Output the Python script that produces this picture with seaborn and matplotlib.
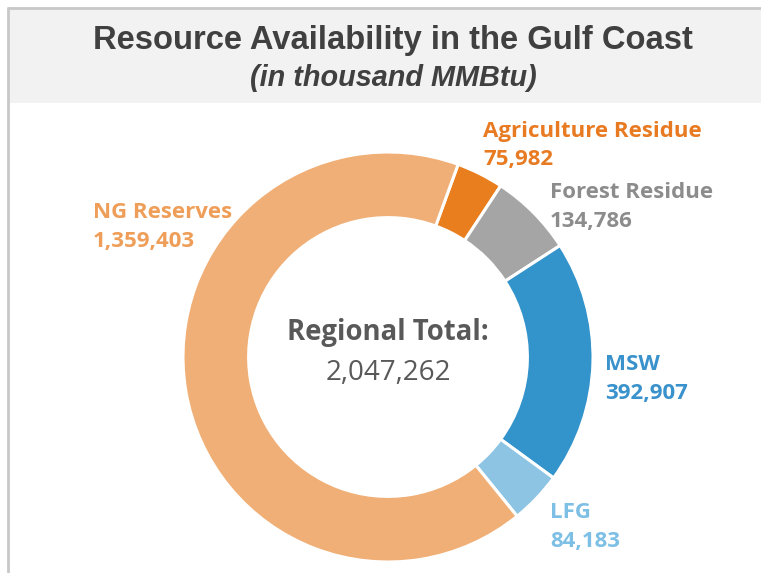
import matplotlib
matplotlib.use("Agg")
import matplotlib.pyplot as plt
import seaborn as sns
from matplotlib.patches import Rectangle
from matplotlib.lines import Line2D

# data
categories = ["Agriculture Residue", "Forest Residue", "MSW", "LFG", "NG Reserves"]
values = [75982, 134786, 392907, 84183, 1359403]
total_label = "2,047,262"

wedge_colors = ["#E97E1E", "#A5A5A5", "#3393CB", "#8DC4E4", "#F0AF76"]
text_colors = ["#E87A22", "#8C8C8C", "#3A92CC", "#7DBFE5", "#EE9E58"]

sns.set_theme(style="white")
plt.rcParams["font.family"] = ["Open Sans", "DejaVu Sans"]

W, H = 761, 573
fig = plt.figure(figsize=(W / 100, H / 100), dpi=100)
fig.patch.set_facecolor("white")


def fx(x):
    return x / W


def fy(y):
    return 1 - y / H


# title band and frame
fig.add_artist(Rectangle((fx(8), fy(103)), 1, (103 - 8) / H, transform=fig.transFigure,
                         facecolor="#F2F2F2", edgecolor="none", zorder=0))
fig.add_artist(Line2D([fx(8), 1], [fy(8), fy(8)], transform=fig.transFigure,
                      color="#C8C8C8", lw=2))
fig.add_artist(Line2D([fx(8), fx(8)], [fy(8), 0], transform=fig.transFigure,
                      color="#C8C8C8", lw=2))

fig.text(fx(393), fy(40), "Resource Availability in the Gulf Coast", ha="center", va="center",
         fontsize=23.6, fontweight="bold", color="#404040",
         family=["Liberation Sans", "DejaVu Sans"])
fig.text(fx(393), fy(78), "(in thousand MMBtu)", ha="center", va="center",
         fontsize=20.8, fontweight="bold", fontstyle="italic", color="#404040",
         family=["Liberation Sans", "DejaVu Sans"])

# donut: centre (388, 357) px, outer radius 205 px
cx, cy, r = 388, 357, 205
ax = fig.add_axes([fx(cx - r), fy(cy + r), 2 * r / W, 2 * r / H])
ax.pie(values, colors=wedge_colors, startangle=70, counterclock=False,
       wedgeprops=dict(width=0.32, edgecolor="white", linewidth=2.2))
ax.set_xlim(-1, 1)
ax.set_ylim(-1, 1)
ax.set_aspect("equal")
ax.axis("off")

ax.text(0, 0.12, "Regional Total:", ha="center", va="center", fontsize=19.8,
        fontweight="bold", color="#595959")
ax.text(0, -0.08, total_label, ha="center", va="center", fontsize=20, color="#595959")

# data labels (left aligned, two lines)
label_pos = [(483, 131), (550, 192), (605, 365), (550, 513), (93, 212)]
for name, val, col, (x, y) in zip(categories, values, text_colors, label_pos):
    fig.text(fx(x), fy(y), name, ha="left", va="center", fontsize=16,
             fontweight="bold", color=col)
    fig.text(fx(x), fy(y + 29), f"{val:,}", ha="left", va="center", fontsize=16,
             fontweight="bold", color=col)

fig.savefig("out.png", dpi=100)
